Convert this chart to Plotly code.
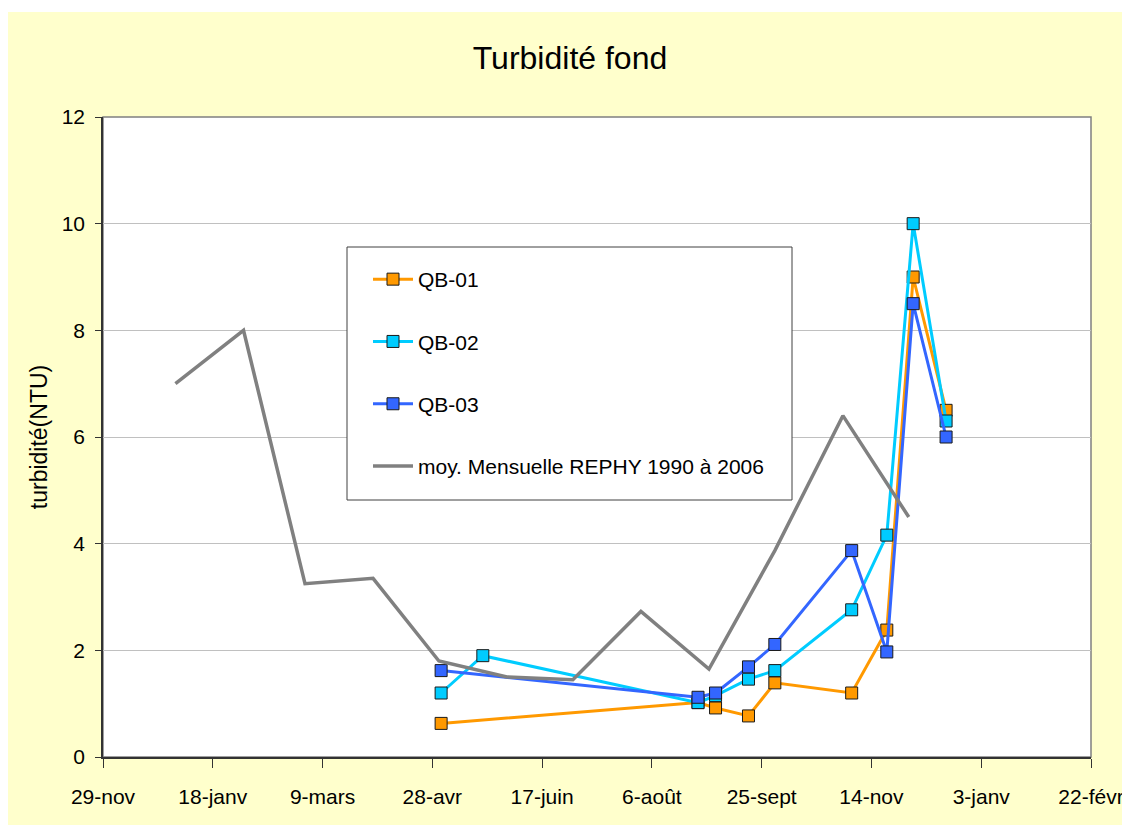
import plotly.graph_objects as go

# Sampling dates for the three stations
sample_dates = ["2007-05-02", "2007-05-21", "2007-08-27", "2007-09-04", "2007-09-19",
                "2007-10-01", "2007-11-05", "2007-11-21", "2007-12-03", "2007-12-18"]
qb01 = [0.63, None, 1.02, 0.92, 0.77, 1.39, 1.20, 2.38, 9.0, 6.5]
qb02 = [1.20, 1.90, 1.02, 1.15, 1.46, 1.62, 2.76, 4.16, 10.0, 6.3]
qb03 = [1.62, None, 1.12, 1.20, 1.69, 2.11, 3.87, 1.97, 8.5, 6.0]

# Monthly REPHY mean 1990-2006
month_dates = ["2007-01-01", "2007-02-01", "2007-03-01", "2007-04-01", "2007-05-01", "2007-06-01",
               "2007-07-01", "2007-08-01", "2007-09-01", "2007-10-01", "2007-11-01", "2007-12-01"]
rephy_mean = [7.0, 8.0, 3.25, 3.35, 1.8, 1.5, 1.45, 2.73, 1.65, 3.87, 6.4, 4.5]

tick_dates = ["2006-11-29", "2007-01-18", "2007-03-09", "2007-04-28", "2007-06-17",
              "2007-08-06", "2007-09-25", "2007-11-14", "2008-01-03", "2008-02-22"]
tick_labels = ["29-nov", "18-janv", "9-mars", "28-avr", "17-juin",
               "6-août", "25-sept", "14-nov", "3-janv", "22-févr"]

FONT = "Liberation Sans, Arial, sans-serif"
W, H = 1122, 825
ML, MR, MT, MB = 103, 31, 117, 68
PW, PH = W - ML - MR, H - MT - MB


def px_x(p):
    return (p - ML) / PW


def px_y(p):
    return (H - MB - p) / PH


fig = go.Figure()

stations = [("QB-01", qb01, "#FF9900"), ("QB-02", qb02, "#00CCFF"), ("QB-03", qb03, "#3366FF")]
for name, vals, col in stations:
    fig.add_trace(go.Scatter(
        x=sample_dates, y=vals, name=name, mode="lines+markers", connectgaps=True,
        legendgroup=name,
        line=dict(color=col, width=3),
        marker=dict(symbol="square", size=12, color=col, line=dict(color="#1a1a1a", width=1)),
    ))

fig.add_trace(go.Scatter(
    x=month_dates, y=rephy_mean, name="moy. Mensuelle REPHY 1990 à 2006", mode="lines",
    legendgroup="rephy", line=dict(color="#808080", width=3.5),
))

shapes = [
    # white margins around the yellow chart area
    dict(type="rect", xref="paper", yref="paper", x0=px_x(0), x1=px_x(W), y0=px_y(12), y1=px_y(0),
         fillcolor="white", line=dict(width=0), layer="below"),
    dict(type="rect", xref="paper", yref="paper", x0=px_x(0), x1=px_x(8), y0=px_y(H), y1=px_y(0),
         fillcolor="white", line=dict(width=0), layer="below"),
    # plot-area frame
    dict(type="rect", xref="paper", yref="paper", x0=0, x1=1, y0=0, y1=1,
         line=dict(color="#808080", width=1.5), layer="below"),
    # legend box
    dict(type="rect", xref="paper", yref="paper", x0=px_x(347), x1=px_x(792), y0=px_y(500), y1=px_y(247),
         fillcolor="white", line=dict(color="#404040", width=1), layer="above"),
]

fig.update_layout(
    width=W, height=H,
    margin=dict(l=ML, r=MR, t=MT, b=MB, autoexpand=False),
    paper_bgcolor="#FFFFCC", plot_bgcolor="white",
    font=dict(family=FONT, size=21, color="black"),
    title=dict(text="Turbidité fond", x=(570 / W), xanchor="center", y=1 - 58 / H, yanchor="middle",
               yref="container", xref="container", font=dict(family=FONT, size=32, color="black")),
    showlegend=True,
    legend=dict(x=px_x(368), y=px_y(259), xanchor="left", yanchor="top",
                bgcolor="rgba(0,0,0,0)", borderwidth=0, tracegroupgap=32,
                font=dict(family=FONT, size=21), itemwidth=40),
    shapes=shapes,
    xaxis=dict(type="date", range=["2006-11-29", "2008-02-22"], tickmode="array",
               tickvals=tick_dates, ticktext=tick_labels, showgrid=False, zeroline=False,
               showline=True, linecolor="#333333", linewidth=1.5,
               ticks="outside", ticklen=9, tickcolor="#333333", tickwidth=1,
               ticklabelstandoff=11, ticklabeloverflow="allow", tickfont=dict(family=FONT, size=21)),
    yaxis=dict(range=[0, 12], dtick=2, showgrid=True, gridcolor="#C0C0C0", gridwidth=1,
               zeroline=False, showline=True, linecolor="#333333", linewidth=1.5,
               ticks="outside", ticklen=6, tickcolor="#333333", tickwidth=1,
               ticklabelstandoff=6, tickfont=dict(family=FONT, size=21),
               title=dict(text="turbidité(NTU)", standoff=8, font=dict(family=FONT, size=23))),
)

fig.write_html("out.html")
